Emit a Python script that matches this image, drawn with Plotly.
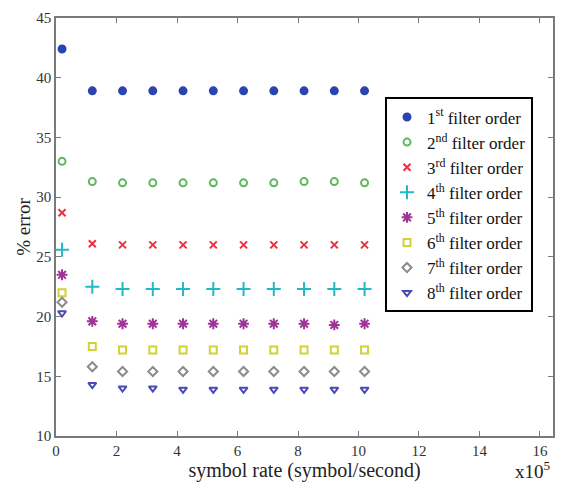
import plotly.graph_objects as go

x_rate = [0.2, 1.2, 2.2, 3.2, 4.2, 5.2, 6.2, 7.2, 8.2, 9.2, 10.2]  # x10^5 symbol/s

order1 = [42.4, 38.9, 38.9, 38.9, 38.9, 38.9, 38.9, 38.9, 38.9, 38.9, 38.9]
order2 = [33.0, 31.3, 31.2, 31.2, 31.2, 31.2, 31.2, 31.2, 31.3, 31.3, 31.2]
order3 = [28.7, 26.1, 26.0, 26.0, 26.0, 26.0, 26.0, 26.0, 26.0, 26.0, 26.0]
order4 = [25.6, 22.5, 22.3, 22.3, 22.3, 22.3, 22.3, 22.3, 22.3, 22.3, 22.3]
order5 = [23.5, 19.6, 19.4, 19.4, 19.4, 19.4, 19.4, 19.4, 19.4, 19.3, 19.4]
order6 = [22.0, 17.5, 17.2, 17.2, 17.2, 17.2, 17.2, 17.2, 17.2, 17.2, 17.2]
order7 = [21.2, 15.8, 15.4, 15.4, 15.4, 15.4, 15.4, 15.4, 15.4, 15.4, 15.4]
order8 = [20.3, 14.3, 14.0, 14.0, 13.9, 13.9, 13.9, 13.9, 13.9, 13.9, 13.9]

names = ["1<sup>st</sup> filter order", "2<sup>nd</sup> filter order",
         "3<sup>rd</sup> filter order", "4<sup>th</sup> filter order",
         "5<sup>th</sup> filter order", "6<sup>th</sup> filter order",
         "7<sup>th</sup> filter order", "8<sup>th</sup> filter order"]
series = [order1, order2, order3, order4, order5, order6, order7, order8]
colors = ["#2a44b0", "#5cb85c", "#ee3040", "#22b8c4", "#a03398", "#d2d236", "#8c8c8c", "#4a4ab8"]
symbols = ["circle", "circle-open", "x-thin-open", "cross-thin-open", "asterisk-open",
           "square-open", "diamond-open", "triangle-down-open"]
sizes = [7, 7, 7, 10, 9, 7, 7, 7]

fig = go.Figure()
for n, s, c, sym, sz in zip(names, series, colors, symbols, sizes):
    fig.add_trace(go.Scatter(
        x=x_rate, y=s, mode="markers", name=n,
        marker=dict(symbol=sym, color=c, size=sz,
                    line=dict(color=c, width=2)),
    ))

axis_common = dict(
    showline=True, linecolor="#7a7a7a", linewidth=1.5, mirror="ticks",
    ticks="inside", ticklen=5, tickcolor="#7a7a7a",
    showgrid=False, zeroline=False,
    tickfont=dict(family="Liberation Serif", size=15, color="#333"),
)

fig.update_layout(
    width=566, height=494,
    margin=dict(l=56, r=13, t=10, b=58),
    plot_bgcolor="white", paper_bgcolor="white",
    font=dict(family="Liberation Serif", color="#222"),
    xaxis=dict(range=[0, 16.43], tickvals=[0, 2, 4, 6, 8, 10, 12, 14, 16],
               title=dict(text="symbol rate (symbol/second)", font=dict(size=20), standoff=4),
               **axis_common),
    yaxis=dict(range=[10, 45], tickvals=[10, 15, 20, 25, 30, 35, 40, 45],
               title=dict(text="% error", font=dict(size=19), standoff=1),
               **axis_common),
    legend=dict(x=0.662, y=0.81, xanchor="left", yanchor="top",
                bgcolor="white", bordercolor="black", borderwidth=2,
                font=dict(family="Liberation Serif", size=17, color="#111"),
                itemwidth=30, tracegroupgap=0),
    showlegend=True,
)

fig.add_annotation(text="x10<sup>5</sup>", xref="paper", yref="paper",
                   x=1.0, y=-0.082, xanchor="right", yanchor="middle",
                   showarrow=False, font=dict(family="Liberation Serif", size=19, color="#222"))

fig.write_html("out.html")
